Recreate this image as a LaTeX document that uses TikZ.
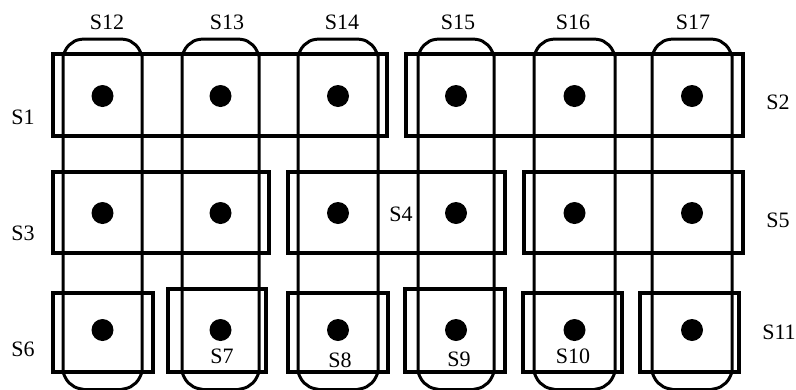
\documentclass[tikz,border=0pt]{standalone}
\usepackage{fontspec}
\setmainfont{Liberation Serif}
\begin{document}
\begin{tikzpicture}[x=1pt,y=-1pt,
  boxshape/.style={draw=black,line width=3.5pt,inner sep=0pt},
  stripline/.style={draw=black,line width=3pt,line join=round},
  dotshape/.style={circle,fill=black,inner sep=0pt,minimum size=22pt},
  lbl/.style={font=\fontsize{22}{24}\selectfont,inner sep=0pt}]
\useasboundingbox (0,0) rectangle (796,389);
\clip (0,0) rectangle (796,389);
\fill[white] (0,0) rectangle (796,389);
% column strips
\foreach \L/\R/\n in {63/142/c12,182/259/c13,298/378/c14,418/494/c15,534/615/c16,652/732/c17}{
  \coordinate (\n-a) at (\L,56);
  \coordinate (\n-b) at (\R,56);
  \coordinate (\n-c) at (\R,372);
  \coordinate (\n-d) at (\L,372);
  \draw[stripline] (\n-d) -- (\n-a)
    .. controls (\L+2,50) and (\L+5,45) .. (\L+9,43) .. controls (\L+12,40) and (\L+16,39.5) .. (\L+21,39) -- (\R-21,39)
    .. controls (\R-16,39.5) and (\R-12,40) .. (\R-9,43) .. controls (\R-5,45) and (\R-2,50) .. (\n-b) -- (\n-c)
    .. controls (\R-2,378) and (\R-5,383) .. (\R-9,385) .. controls (\R-12,388) and (\R-16,388.5) .. (\R-21,389.5) -- (\L+21,389.5)
    .. controls (\L+16,388.5) and (\L+12,388) .. (\L+9,385) .. controls (\L+5,383) and (\L+2,378) .. (\n-d);
}
% row boxes
\node[boxshape,minimum width=334pt,minimum height=82pt] (s1) at (220,95) {};
\node[boxshape,minimum width=337pt,minimum height=82pt] (s2) at (574.5,95) {};
\node[boxshape,minimum width=216pt,minimum height=81pt] (s3) at (161,212.5) {};
\node[boxshape,minimum width=217pt,minimum height=81pt] (s4) at (396.5,212.5) {};
\node[boxshape,minimum width=219pt,minimum height=81pt] (s5) at (633.5,212.5) {};
\node[boxshape,minimum width=100pt,minimum height=79pt] (s6) at (103,332.5) {};
\node[boxshape,minimum width=98pt,minimum height=83pt] (s7) at (217,330.5) {};
\node[boxshape,minimum width=100pt,minimum height=79pt] (s8) at (338,332.5) {};
\node[boxshape,minimum width=100pt,minimum height=83pt] (s9) at (455,330.5) {};
\node[boxshape,minimum width=99pt,minimum height=79pt] (s10) at (572.5,332.5) {};
\node[boxshape,minimum width=99pt,minimum height=79pt] (s11) at (689.5,332.5) {};
% dots
\foreach \x [count=\i] in {102.5,220.5,338,456,574.5,692}{
  \foreach \y [count=\j] in {96,213,330}{
    \node[dotshape] (d\i\j) at (\x,\y) {};
  }
}
% labels
\node[lbl] (l12) at (107,22) {S12};
\node[lbl] (l13) at (227,22) {S13};
\node[lbl] (l14) at (342,22) {S14};
\node[lbl] (l15) at (458,22) {S15};
\node[lbl] (l16) at (573,22) {S16};
\node[lbl] (l17) at (693,22) {S17};
\node[lbl] (l1) at (23,117) {S1};
\node[lbl] (l2) at (778,102) {S2};
\node[lbl] (l3) at (23,233) {S3};
\node[lbl] (l4) at (401,214) {S4};
\node[lbl] (l5) at (778,220) {S5};
\node[lbl] (l6) at (23,349) {S6};
\node[lbl] (l7) at (222,356) {S7};
\node[lbl] (l8) at (340,360) {S8};
\node[lbl] (l9) at (459,359) {S9};
\node[lbl] (l10) at (573,356) {S10};
\node[lbl] (l11) at (779,332) {S11};
\end{tikzpicture}
\end{document}
